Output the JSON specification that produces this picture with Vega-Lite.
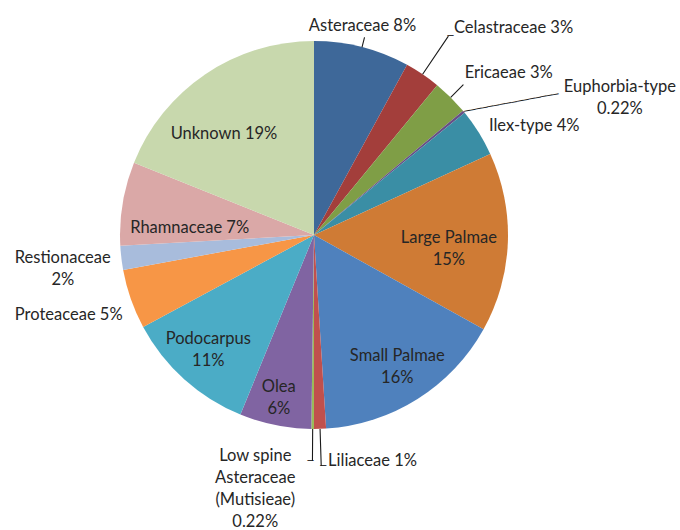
{
  "$schema": "https://vega.github.io/schema/vega-lite/v6.json",
  "width": 628,
  "height": 470,
  "autosize": "none",
  "padding": {"left": 0, "top": 0, "right": 52, "bottom": 60},
  "background": "white",
  "config": {
    "view": {"stroke": null},
    "text": {"font": "Lato", "fontSize": 16.5, "fill": "#262626", "lineBreak": "\n", "lineHeight": 22, "baseline": "middle"}
  },
  "data": {
    "values": [
      {"taxon": "Asteraceae", "pct": 8, "label": "Asteraceae 8%"},
      {"taxon": "Celastraceae", "pct": 3, "label": "Celastraceae 3%"},
      {"taxon": "Ericaeae", "pct": 3, "label": "Ericaeae 3%"},
      {"taxon": "Euphorbia-type", "pct": 0.22, "label": "Euphorbia-type\n0.22%"},
      {"taxon": "Ilex-type", "pct": 4, "label": "Ilex-type 4%"},
      {"taxon": "Large Palmae", "pct": 15, "label": "Large Palmae\n15%"},
      {"taxon": "Small Palmae", "pct": 16, "label": "Small Palmae\n16%"},
      {"taxon": "Liliaceae", "pct": 1, "label": "Liliaceae 1%"},
      {"taxon": "Low spine Asteraceae (Mutisieae)", "pct": 0.22, "label": "Low spine\nAsteraceae\n(Mutisieae)\n0.22%"},
      {"taxon": "Olea", "pct": 6, "label": "Olea\n6%"},
      {"taxon": "Podocarpus", "pct": 11, "label": "Podocarpus\n11%"},
      {"taxon": "Proteaceae", "pct": 5, "label": "Proteaceae 5%"},
      {"taxon": "Restionaceae", "pct": 2, "label": "Restionaceae\n2%"},
      {"taxon": "Rhamnaceae", "pct": 7, "label": "Rhamnaceae 7%"},
      {"taxon": "Unknown", "pct": 19, "label": "Unknown 19%"}
    ]
  },
  "transform": [{"window": [{"op": "row_number", "as": "slot"}]}],
  "encoding": {
    "theta": {"field": "pct", "type": "quantitative", "stack": true},
    "order": {"field": "slot", "type": "quantitative"}
  },
  "layer": [
    {
      "mark": {"type": "arc", "radius": 194},
      "encoding": {
        "color": {
          "field": "taxon",
          "type": "nominal",
          "legend": null,
          "scale": {
            "domain": ["Asteraceae", "Celastraceae", "Ericaeae", "Euphorbia-type", "Ilex-type", "Large Palmae", "Small Palmae", "Liliaceae", "Low spine Asteraceae (Mutisieae)", "Olea", "Podocarpus", "Proteaceae", "Restionaceae", "Rhamnaceae", "Unknown"],
            "range": ["#3E6899", "#A33E3B", "#7F9E46", "#674F86", "#3A8EA5", "#CF7B35", "#4F81BD", "#C0504D", "#9BBB59", "#8064A2", "#4BACC6", "#F79646", "#A8BCDC", "#DAA8A7", "#C8D8AD"]
          }
        }
      }
    },
    {
      "mark": {"type": "arc", "radius": 204, "radius2": 194, "padAngle": 3.1416, "fill": null, "stroke": "#1a1a1a", "strokeWidth": 1.1},
      "encoding": {"strokeOpacity": {"condition": {"test": "datum.taxon === 'Asteraceae'", "value": 1}, "value": 0}}
    },
    {
      "mark": {"type": "arc", "radius": 240, "radius2": 194, "padAngle": 3.1416, "fill": null, "stroke": "#1a1a1a", "strokeWidth": 1.1},
      "encoding": {"strokeOpacity": {"condition": {"test": "datum.taxon === 'Celastraceae'", "value": 1}, "value": 0}}
    },
    {
      "mark": {"type": "arc", "radius": 212, "radius2": 194, "padAngle": 3.1416, "fill": null, "stroke": "#1a1a1a", "strokeWidth": 1.1},
      "encoding": {"strokeOpacity": {"condition": {"test": "datum.taxon === 'Ericaeae'", "value": 1}, "value": 0}}
    },
    {
      "mark": {"type": "arc", "radius": 231, "radius2": 194, "padAngle": 3.1416, "fill": null, "stroke": "#1a1a1a", "strokeWidth": 1.1},
      "encoding": {"strokeOpacity": {"condition": {"test": "datum.taxon === 'Liliaceae'", "value": 1}, "value": 0}}
    },
    {
      "mark": {"type": "arc", "radius": 226, "radius2": 194, "padAngle": 3.1416, "fill": null, "stroke": "#1a1a1a", "strokeWidth": 1.1},
      "encoding": {"strokeOpacity": {"condition": {"test": "datum.taxon === 'Low spine Asteraceae (Mutisieae)'", "value": 1}, "value": 0}}
    },
    {
      "mark": {"type": "text", "radius": 194, "align": "left", "angle": -10.6, "font": "DejaVu Sans Mono", "fontSize": 10, "fill": "#1a1a1a"},
      "encoding": {"text": {"condition": {"test": "datum.taxon === 'Euphorbia-type'", "value": "────────────────"}, "value": ""}}
    },
    {
      "mark": {"type": "text", "radius": 240, "align": "left", "dx": -1, "font": "DejaVu Sans Mono", "fontSize": 10, "fill": "#1a1a1a"},
      "encoding": {"text": {"condition": {"test": "datum.taxon === 'Celastraceae'", "value": "─"}, "value": ""}}
    },
    {
      "mark": {"type": "text", "radius": 231, "align": "left", "dx": -1, "font": "DejaVu Sans Mono", "fontSize": 10, "fill": "#1a1a1a"},
      "encoding": {"text": {"condition": {"test": "datum.taxon === 'Liliaceae'", "value": "─"}, "value": ""}}
    },
    {
      "mark": {"type": "text", "radius": 226, "align": "right", "dx": 1, "font": "DejaVu Sans Mono", "fontSize": 10, "fill": "#1a1a1a"},
      "encoding": {"text": {"condition": {"test": "datum.taxon === 'Low spine Asteraceae (Mutisieae)'", "value": "─"}, "value": ""}}
    },
    {
      "mark": {"type": "text", "radius": 216, "align": "center", "dx": -5},
      "encoding": {"text": {"condition": {"test": "datum.taxon === 'Asteraceae'", "field": "label", "type": "nominal"}, "value": ""}}
    },
    {
      "mark": {"type": "text", "radius": 250, "align": "left"},
      "encoding": {"text": {"condition": {"test": "datum.taxon === 'Celastraceae'", "field": "label", "type": "nominal"}, "value": ""}}
    },
    {
      "mark": {"type": "text", "radius": 221, "align": "left", "dx": -5, "dy": -5},
      "encoding": {"text": {"condition": {"test": "datum.taxon === 'Ericaeae'", "field": "label", "type": "nominal"}, "value": ""}}
    },
    {
      "mark": {"type": "text", "radius": 194, "align": "center", "dx": 156, "dy": -25},
      "encoding": {"text": {"condition": {"test": "datum.taxon === 'Euphorbia-type'", "field": "label", "type": "nominal"}, "value": ""}}
    },
    {
      "mark": {"type": "text", "radius": 206, "align": "left"},
      "encoding": {"text": {"condition": {"test": "datum.taxon === 'Ilex-type'", "field": "label", "type": "nominal"}, "value": ""}}
    },
    {
      "mark": {"type": "text", "radius": 135, "align": "center", "dy": -2},
      "encoding": {"text": {"condition": {"test": "datum.taxon === 'Large Palmae'", "field": "label", "type": "nominal"}, "value": ""}}
    },
    {
      "mark": {"type": "text", "radius": 156, "align": "center", "dy": -11},
      "encoding": {"text": {"condition": {"test": "datum.taxon === 'Small Palmae'", "field": "label", "type": "nominal"}, "value": ""}}
    },
    {
      "mark": {"type": "text", "radius": 226, "align": "left", "dx": 7},
      "encoding": {"text": {"condition": {"test": "datum.taxon === 'Liliaceae'", "field": "label", "type": "nominal"}, "value": ""}}
    },
    {
      "mark": {"type": "text", "radius": 256, "align": "center", "dx": -57, "dy": -35},
      "encoding": {"text": {"condition": {"test": "datum.taxon === 'Low spine Asteraceae (Mutisieae)'", "field": "label", "type": "nominal"}, "value": ""}}
    },
    {
      "mark": {"type": "text", "radius": 166, "align": "center", "dx": -2, "dy": -11},
      "encoding": {"text": {"condition": {"test": "datum.taxon === 'Olea'", "field": "label", "type": "nominal"}, "value": ""}}
    },
    {
      "mark": {"type": "text", "radius": 155, "align": "center", "dx": -2, "dy": -11},
      "encoding": {"text": {"condition": {"test": "datum.taxon === 'Podocarpus'", "field": "label", "type": "nominal"}, "value": ""}}
    },
    {
      "mark": {"type": "text", "radius": 207, "align": "right", "dx": 4, "dy": 12},
      "encoding": {"text": {"condition": {"test": "datum.taxon === 'Proteaceae'", "field": "label", "type": "nominal"}, "value": ""}}
    },
    {
      "mark": {"type": "text", "radius": 253, "align": "center", "dy": -7},
      "encoding": {"text": {"condition": {"test": "datum.taxon === 'Restionaceae'", "field": "label", "type": "nominal"}, "value": ""}}
    },
    {
      "mark": {"type": "text", "radius": 124, "align": "center", "dx": -2, "dy": 13},
      "encoding": {"text": {"condition": {"test": "datum.taxon === 'Rhamnaceae'", "field": "label", "type": "nominal"}, "value": ""}}
    },
    {
      "mark": {"type": "text", "radius": 134, "align": "center", "dx": -15, "dy": 10},
      "encoding": {"text": {"condition": {"test": "datum.taxon === 'Unknown'", "field": "label", "type": "nominal"}, "value": ""}}
    }
  ]
}
